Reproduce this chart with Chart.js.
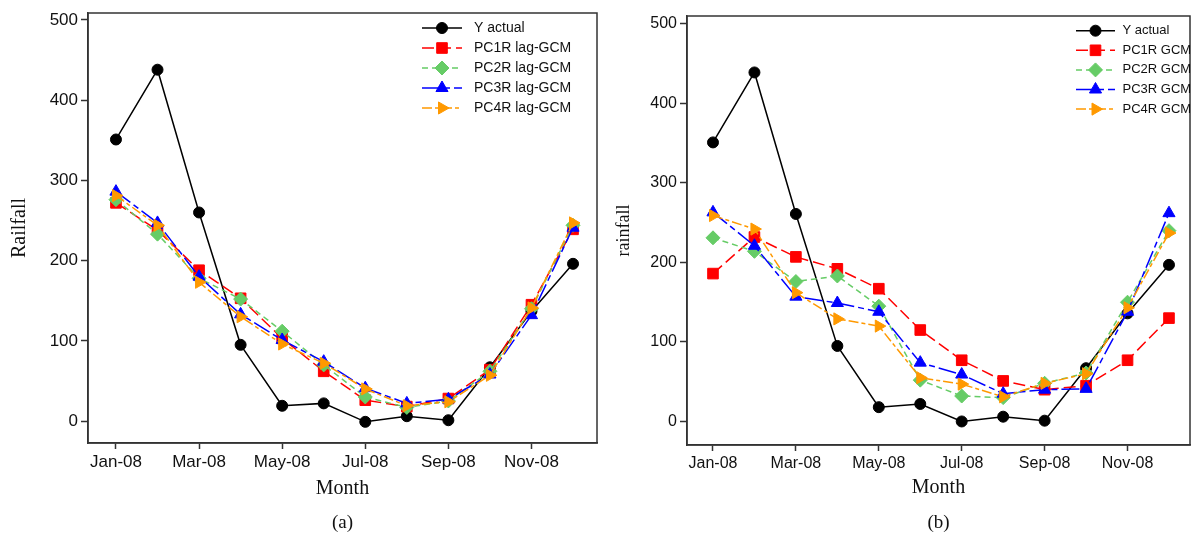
<!DOCTYPE html>
<html>
<head>
<meta charset="utf-8">
<script src="https://cdn.jsdelivr.net/npm/chart.js@4.4.1/dist/chart.umd.min.js"></script>
<style>
  html, body { margin: 0; padding: 0; background: #fff; }
  #wrap { position: relative; width: 1192px; height: 535px; overflow: hidden; }
  canvas { position: absolute; top: 0; }
  #chartA { left: 0; }
  #chartB { left: 598px; }
</style>
</head>
<body>
<div id="wrap">
  <canvas id="chartA" width="598" height="535"></canvas>
  <canvas id="chartB" width="594" height="535"></canvas>
</div>
<script>
// Dados
const months = ['Jan-08', 'Feb-08', 'Mar-08', 'Apr-08', 'May-08', 'Jun-08',
                'Jul-08', 'Aug-08', 'Sep-08', 'Oct-08', 'Nov-08', 'Dec-08'];
const xTicks = [0, 2, 4, 6, 8, 10];
const yTicks = [0, 100, 200, 300, 400, 500];

// (a) lag-GCM
const labelsA = ['Y actual', 'PC1R lag-GCM', 'PC2R lag-GCM', 'PC3R lag-GCM', 'PC4R lag-GCM'];
const actualA = [351, 438, 260, 95, 19, 22, -1, 6, 1, 67, 137, 196];
const pc1A = [272, 238, 188, 153, 103, 62, 26, 18, 28, 64, 145, 239];
const pc2A = [276, 233, 178, 152, 112, 70, 30, 17, 25, 62, 140, 244];
const pc3A = [286, 247, 180, 133, 101, 74, 41, 22, 27, 58, 132, 241];
const pc4A = [281, 244, 173, 130, 96, 72, 40, 19, 24, 57, 141, 247];

// (b) GCM
const labelsB = ['Y actual', 'PC1R GCM', 'PC2R GCM', 'PC3R GCM', 'PC4R GCM'];
const actualB = [351, 439, 261, 95, 18, 22, 0, 6, 1, 67, 136, 197];
const pc1B = [186, 232, 207, 192, 167, 115, 77, 51, 40, 45, 77, 130];
const pc2B = [231, 214, 176, 183, 145, 52, 32, 30, 48, 61, 150, 240];
const pc3B = [263, 221, 157, 149, 138, 74, 59, 35, 40, 41, 138, 262];
const pc4B = [259, 242, 162, 129, 120, 55, 47, 31, 48, 60, 143, 237];

// Estilo das séries
const seriesStyles = [
  { color: '#000000', dash: [], point: 'circle', radius: 5.5, rotation: 0 },
  { color: '#ff0000', dash: [12, 5], point: 'rect', radius: 7.5, rotation: 0 },
  { color: '#66cc66', dash: [6, 4], point: 'rectRot', radius: 7, rotation: 0 },
  { color: '#0000ff', dash: [18, 4, 6, 4], point: 'triangle', radius: 7, rotation: 0 },
  { color: '#ff9900', dash: [10, 3, 4, 3], point: 'triangle', radius: 7, rotation: 90 }
];

const sansFont = "'Liberation Sans', Arial, sans-serif";
const serifFont = "'Liberation Serif', 'Times New Roman', serif";

// Moldura, legenda e rótulo inferior
const panelPlugin = {
  id: 'panelDecor',
  afterDraw(chart, args, opts) {
    const { ctx, chartArea: a } = chart;
    ctx.save();
    ctx.strokeStyle = '#333';
    ctx.lineWidth = 1.5;
    ctx.setLineDash([]);
    ctx.strokeRect(a.left, a.top, a.right - a.left, a.bottom - a.top);

    // legenda
    ctx.font = opts.legendSize + 'px ' + sansFont;
    ctx.textBaseline = 'middle';
    ctx.textAlign = 'left';
    chart.data.datasets.forEach((ds, i) => {
      const y = a.top + opts.legendTop + i * opts.legendRow;
      const x0 = a.right - opts.sampleStart;
      ctx.strokeStyle = ds.borderColor;
      ctx.lineWidth = ds.borderWidth;
      ctx.setLineDash(ds.borderDash || []);
      ctx.beginPath();
      ctx.moveTo(x0, y);
      ctx.lineTo(x0 + opts.sampleLen, y);
      ctx.stroke();
      ctx.setLineDash([]);
      ctx.fillStyle = ds.pointBackgroundColor;
      ctx.strokeStyle = ds.pointBorderColor;
      ctx.lineWidth = 1;
      Chart.helpers.drawPoint(ctx, {
        pointStyle: ds.pointStyle,
        rotation: ds.pointRotation,
        radius: ds.pointRadius,
        borderWidth: 1
      }, x0 + opts.sampleLen / 2, y);
      ctx.fillStyle = '#111';
      ctx.fillText(ds.label, a.right - opts.textStart, y);
    });

    // rótulo (a)/(b)
    ctx.font = opts.captionSize + 'px ' + serifFont;
    ctx.textAlign = 'center';
    ctx.fillStyle = '#111';
    ctx.fillText(opts.caption, (a.left + a.right) / 2, opts.captionY);
    ctx.restore();
  }
};

function makeChart(id, labels, series, cfg) {
  const datasets = series.map((vals, i) => {
    const s = seriesStyles[i];
    return {
      label: labels[i],
      data: vals.map((v, k) => ({ x: k, y: v })),
      borderColor: s.color,
      backgroundColor: s.color,
      borderWidth: 1.5,
      borderDash: s.dash,
      pointStyle: s.point,
      pointRotation: s.rotation,
      pointRadius: s.radius,
      pointBackgroundColor: s.color,
      pointBorderColor: s.color,
      pointBorderWidth: 1,
      tension: 0,
      order: series.length - i
    };
  });

  return new Chart(document.getElementById(id), {
    type: 'line',
    data: { datasets },
    options: {
      responsive: false,
      animation: false,
      events: [],
      layout: { padding: cfg.padding, autoPadding: false },
      plugins: {
        legend: { display: false },
        tooltip: { enabled: false },
        panelDecor: cfg.decor
      },
      scales: {
        x: {
          type: 'linear',
          min: cfg.xMin,
          max: cfg.xMax,
          afterBuildTicks: axis => { axis.ticks = xTicks.map(v => ({ value: v })); },
          afterFit: axis => {
            axis.height = cfg.xHeight;
            axis.paddingLeft = 0;
            axis.paddingRight = 0;
          },
          grid: { drawOnChartArea: false, tickLength: 6, tickColor: '#333', tickWidth: 1.5 },
          border: { display: true, color: '#333', width: 1.5 },
          ticks: {
            autoSkip: false,
            maxRotation: 0,
            padding: 3,
            color: '#111',
            font: { family: sansFont, size: cfg.tickSize },
            callback: v => months[v]
          },
          title: {
            display: true,
            text: 'Month',
            color: '#111',
            font: { family: serifFont, size: 20 },
            padding: { top: 0, bottom: cfg.monthPad }
          }
        },
        y: {
          min: cfg.yMin,
          max: cfg.yMax,
          afterBuildTicks: axis => { axis.ticks = yTicks.map(v => ({ value: v })); },
          afterFit: axis => {
            axis.width = cfg.yWidth;
            axis.paddingTop = 0;
            axis.paddingBottom = 0;
          },
          grid: { drawOnChartArea: false, tickLength: 7, tickColor: '#333', tickWidth: 1.5 },
          border: { display: true, color: '#333', width: 1.5 },
          ticks: {
            padding: 3,
            color: '#111',
            font: { family: sansFont, size: cfg.tickSize }
          },
          title: {
            display: true,
            text: cfg.yTitle,
            color: '#111',
            font: { family: serifFont, size: cfg.yTitleSize },
            padding: { top: cfg.yTitlePad, bottom: 0 }
          }
        }
      }
    },
    plugins: [panelPlugin]
  });
}

makeChart('chartA', labelsA, [actualA, pc1A, pc2A, pc3A, pc4A], {
  padding: { left: 0, top: 13, right: 1, bottom: 0 },
  xMin: -0.673, xMax: 11.577, yMin: -27.4, yMax: 508.7,
  xHeight: 92, yWidth: 88, tickSize: 17, monthPad: 34,
  yTitle: 'Railfall', yTitleSize: 20, yTitlePad: 8,
  decor: {
    legendSize: 14, legendTop: 15, legendRow: 20,
    sampleStart: 175, sampleLen: 40, textStart: 123,
    caption: '(a)', captionSize: 19, captionY: 523
  }
});

makeChart('chartB', labelsB, [actualB, pc1B, pc2B, pc3B, pc4B], {
  padding: { left: 0, top: 16, right: 2, bottom: 0 },
  xMin: -0.627, xMax: 11.507, yMin: -29.6, yMax: 510,
  xHeight: 90, yWidth: 89, tickSize: 16, monthPad: 35,
  yTitle: 'rainfall', yTitleSize: 18, yTitlePad: 15.7,
  decor: {
    legendSize: 13, legendTop: 14.7, legendRow: 19.6,
    sampleStart: 114, sampleLen: 39, textStart: 67.5,
    caption: '(b)', captionSize: 19, captionY: 523
  }
});
</script>
</body>
</html>
